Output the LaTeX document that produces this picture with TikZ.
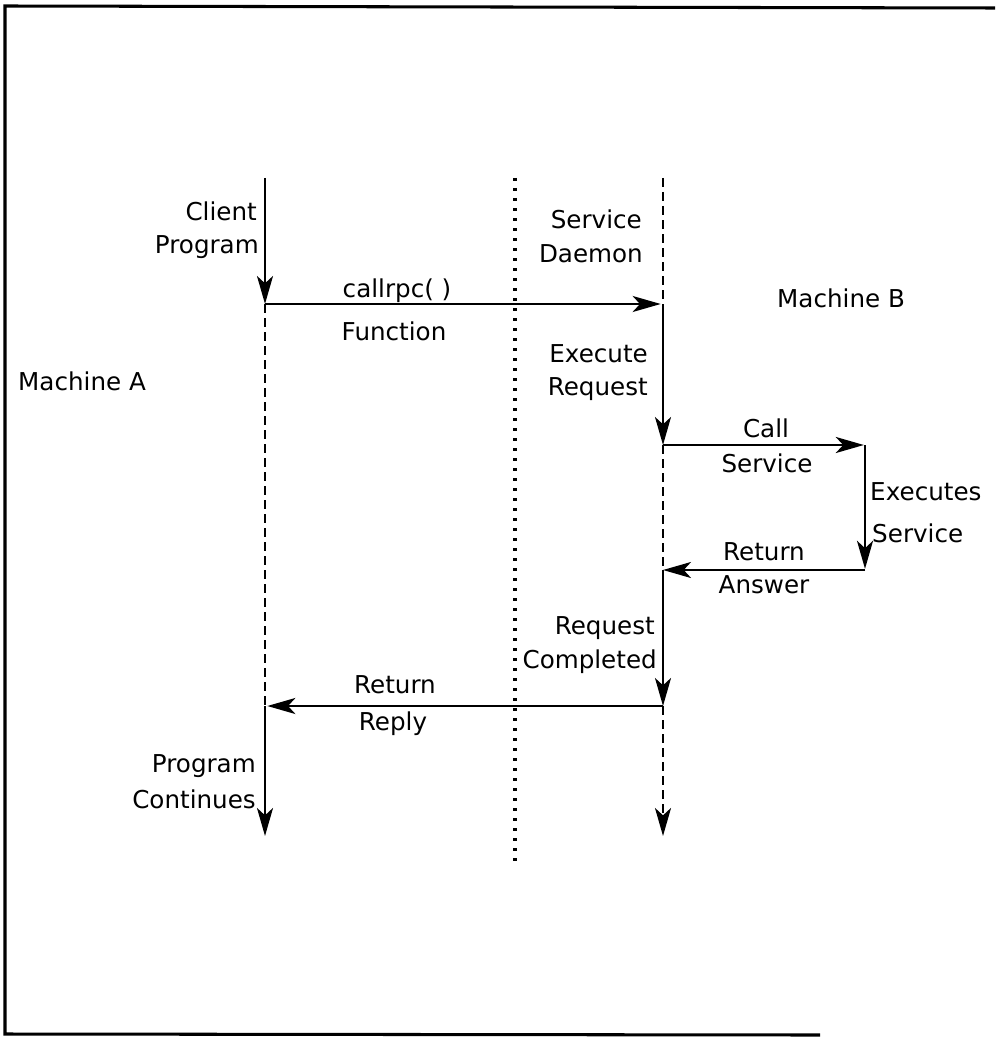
\documentclass[tikz,border=0pt]{standalone}
\usepackage{fontspec}
\setmainfont{DejaVu Sans}
\usetikzlibrary{arrows.meta}
\begin{document}
\begin{tikzpicture}[x=0.3mm,y=-0.3mm,
  lbl/.style={inner sep=0pt,font=\fontsize{21pt}{28pt}\selectfont},
  lr/.style={lbl,anchor=base east},
  lc/.style={lbl,anchor=base},
  ll/.style={lbl,anchor=base west},
  solidln/.style={line width=2.1pt},
  dashln/.style={line width=2.1pt,dash pattern=on 2.7mm off 1.5mm},
  dotln/.style={line width=2.6pt,dash pattern=on 0.9mm off 2.1mm},
  arr/.style={-{Stealth[length=8.4mm,width=4.8mm,inset=2.2mm]}},
  frame/.style={line width=2.6pt}]
\useasboundingbox (0,0) rectangle (995,1039);
% frame
\coordinate (f1) at (995,8);
\coordinate (f2) at (5,6);
\coordinate (f3) at (5,1034);
\coordinate (f4) at (820,1035);
\draw[frame] (f1) -- (f2) -- (f3) -- (f4);
% key points
\coordinate (L0) at (265,178);
\coordinate (L1) at (265,304);
\coordinate (L2) at (265,706);
\coordinate (L3) at (265,836);
\coordinate (D0) at (515,178);
\coordinate (D1) at (515,866);
\coordinate (R0) at (663,178);
\coordinate (R1) at (663,304);
\coordinate (R2) at (663,445);
\coordinate (R3) at (663,570);
\coordinate (R4) at (663,706);
\coordinate (R5) at (663,836);
\coordinate (S1) at (865,445);
\coordinate (S2) at (865,570);
% middle dotted line
\draw[dotln] (D0) -- (D1);
% left lifeline
\draw[solidln,arr] (L0) -- (L1);
\draw[dashln] (L1) -- (L2);
\draw[solidln,arr] (L2) -- (L3);
% right lifeline
\draw[dashln] (R0) -- (R1);
\draw[solidln,arr] (R1) -- (R2);
\draw[dashln] (R2) -- (R3);
\draw[solidln,arr] (R3) -- (R4);
\draw[dashln,arr] (R4) -- (R5);
% messages
\draw[solidln,arr,shorten >=2pt] (L1) -- (R1);
\draw[solidln,arr,shorten >=1pt] (R2) -- (S1);
\draw[solidln,arr,shorten >=1pt] (S1) -- (S2);
\draw[solidln,arr] (S2) -- (R3);
\draw[solidln,arr,shorten >=2pt] (R4) -- (L2);
% labels
\node[lr] (client) at (257,220) {Client};
\node[lr] (prog) at (259,253) {Program};
\node[lr] (svc) at (642,228) {Service};
\node[lr] (dae) at (643,262) {Daemon};
\node[lc] (callrpc) at (397,297) {callrpc( )};
\node[lc] (func) at (394,340) {Function};
\node[ll] (machB) at (777,307) {Machine B};
\node[ll] (machA) at (18,390) {Machine A};
\node[lr] (exe) at (648,362) {Execute};
\node[lr] (req) at (648,395) {Request};
\node[lc] (call) at (766,437) {Call};
\node[lc] (csvc) at (767,472) {Service};
\node[ll] (exes) at (870,500) {Executes};
\node[ll] (esvc) at (872,542) {Service};
\node[lc] (ret) at (764,560) {Return};
\node[lc] (ans) at (764,593) {Answer};
\node[lr] (req2) at (655,634) {Request};
\node[lr] (comp) at (657,668) {Completed};
\node[lc] (ret2) at (395,693) {Return};
\node[lc] (reply) at (393,730) {Reply};
\node[lr] (prog2) at (256,772) {Program};
\node[lr] (cont) at (256,808) {Continues};
\end{tikzpicture}
\end{document}
